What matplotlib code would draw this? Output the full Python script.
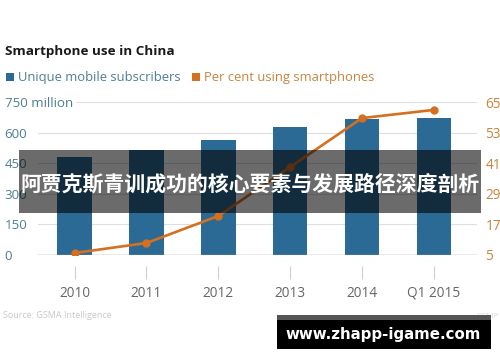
import matplotlib.pyplot as plt
from matplotlib.patches import Rectangle
import numpy as np

plt.rcParams["font.family"] = ["Open Sans", "DejaVu Sans"]

years = ["2010", "2011", "2012", "2013", "2014", "Q1 2015"]
subscribers = [480, 515, 564, 627, 667, 672]  # million
pct_smart = [5.8, 9.7, 20.3, 39.5, 58.7, 61.9]  # per cent

left_ticks = [0, 150, 300, 450, 600, 750]
left_labels = ["0", "150", "300", "450", "600", "750 million"]
right_ticks = [5, 17, 29, 41, 53, 65]

BLUE = "#2b6a94"
ORANGE = "#d4701f"
LBLUE = "#4f7f93"
LORANGE = "#c9843f"
W, H = 500, 362


def fx(px):
    return px / W


def fy(py):
    return 1 - py / H


def box(x0, y0, x1, y1, **kw):
    # rectangle in pixel coords of the picture (top-left origin)
    fig.patches.append(Rectangle((fx(x0), fy(y1)), fx(x1 - x0), fy(y0) - fy(y1),
                                 transform=fig.transFigure, linewidth=0, **kw))


fig = plt.figure(figsize=(5, 3.62), dpi=100)
ax = fig.add_axes([fx(38), fy(255), fx(477 - 38), fy(102) - fy(255)])
x = np.arange(len(years))

ax.set_axisbelow(True)
ax.bar(x, subscribers, width=0.48, color=BLUE, zorder=2)
ax.set_xlim(-0.51, 5.6)
ax.set_ylim(0, 750)
ax.set_yticks(left_ticks)
ax.set_yticklabels(left_labels)
ax.yaxis.grid(True, color="#dedede", linewidth=0.8)
ax.axhline(0, color="#9a9a9a", linewidth=1.0, zorder=3)
for s in ax.spines.values():
    s.set_visible(False)
ax.spines["bottom"].set_position(("outward", 8))
ax.tick_params(axis="y", length=0, pad=24, labelsize=9.6, labelcolor=LBLUE)
for lab in ax.get_yticklabels():
    lab.set_horizontalalignment("left")
    lab.set_bbox(dict(facecolor="white", edgecolor="none", pad=2))
ax.set_xticks(x)
ax.set_xticklabels(years)
ax.tick_params(axis="x", length=9, width=0.8, color="#d0d0d0", pad=5,
               labelsize=9.8, labelcolor="#666666")

ax2 = ax.twinx()
ax2.plot(x, pct_smart, color=ORANGE, linewidth=1.9, marker="o",
         markersize=5, zorder=4)
ax2.set_ylim(5, 65)
ax2.set_yticks(right_ticks)
ax2.tick_params(axis="y", length=0, pad=6, labelsize=9.8, labelcolor=LORANGE)
for s in ax2.spines.values():
    s.set_visible(False)

fig.text(fx(5), fy(52), "Smartphone use in China", fontsize=9.7,
         fontweight="bold", color="#1a1a1a", va="center", ha="left")
box(6, 73, 14, 81, color=BLUE)
fig.text(fx(18), fy(77), "Unique mobile subscribers", fontsize=9.4,
         color=LBLUE, va="center", ha="left")
box(192, 73, 200, 81, color=ORANGE)
fig.text(fx(204), fy(77), "Per cent using smartphones", fontsize=9.4,
         color=LORANGE, va="center", ha="left")

fig.text(fx(3), fy(316), "Source: GSMA Intelligence", fontsize=6.5,
         color="#c8c8c8", va="center", ha="left")
fig.text(fx(477), fy(316), "SCMP", fontsize=6, color="#d8d8d8",
         va="center", ha="left")

# overlay band with the Chinese caption
box(19, 150, 481, 213, color="black", alpha=0.58, zorder=10)
fig.text(fx(250), fy(184), "阿贾克斯青训成功的核心要素与发展路径深度剖析",
         fontsize=15, fontweight="bold", color="white", ha="center",
         va="center", family=["Noto Sans CJK SC", "DejaVu Sans"], zorder=11)

# watermark box
box(277, 315, 491, 320, color="#555555", zorder=10)
box(277, 320, 491, 349, color="black", zorder=10)
fig.text(fx(383), fy(334), "www.zhapp-igame.com", fontsize=10.8,
         fontweight="bold", color="white", ha="center", va="center",
         family=["DejaVu Sans"], zorder=11)

fig.savefig("out.png", dpi=100)
